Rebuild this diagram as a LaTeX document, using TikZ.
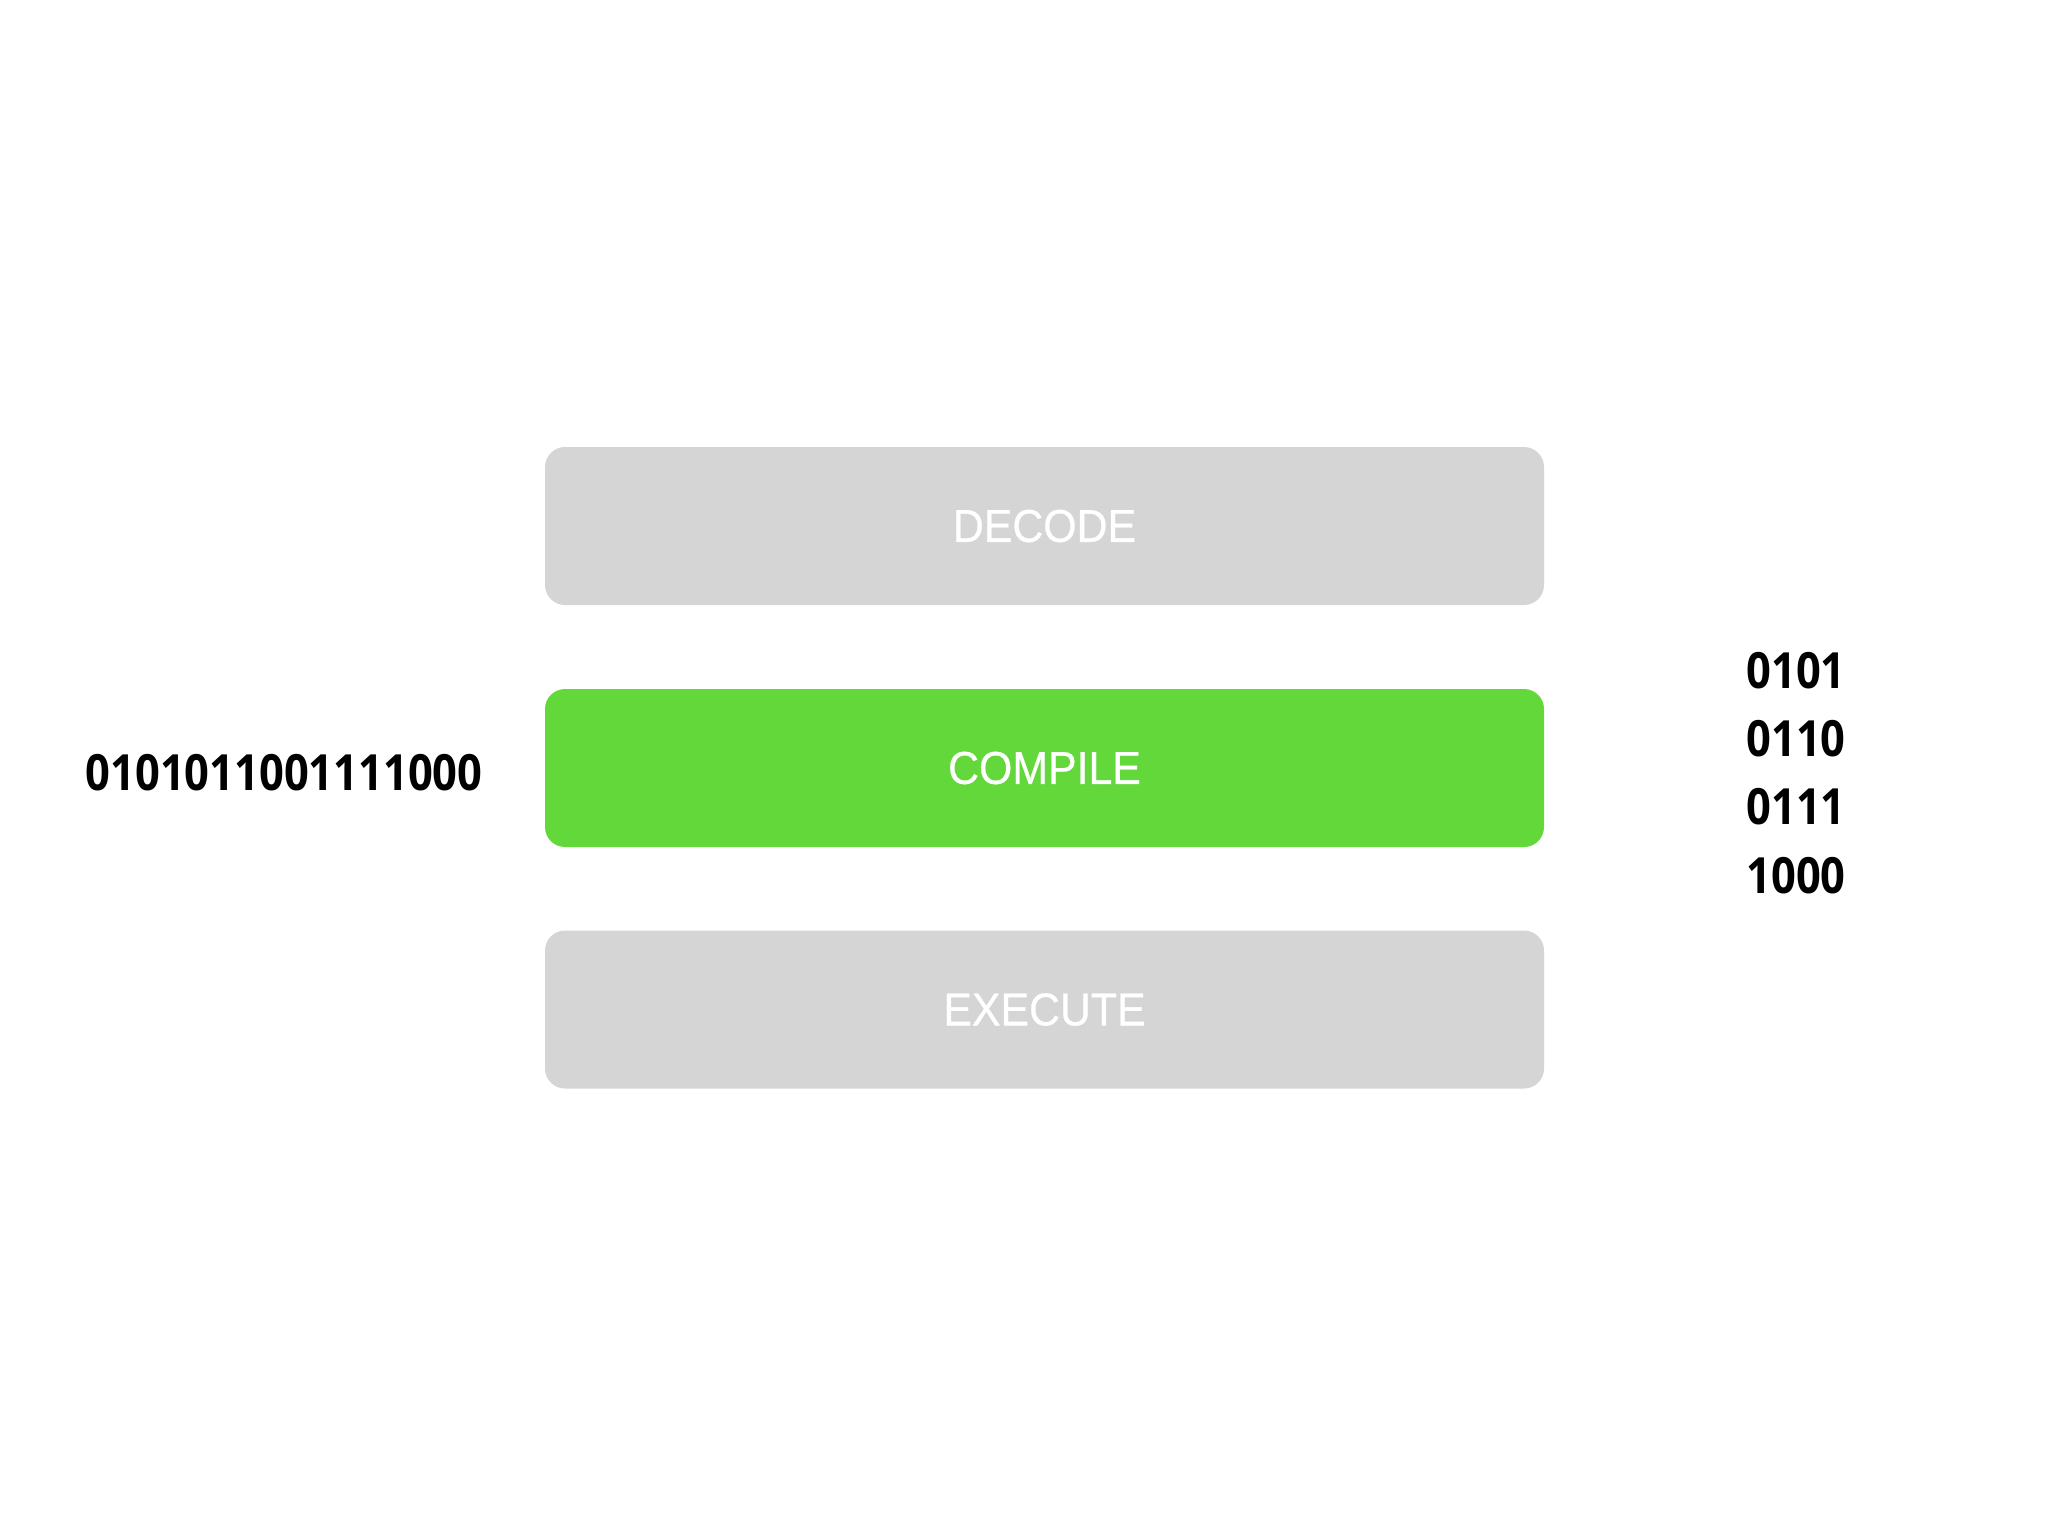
\documentclass[tikz,border=0pt]{standalone}
\usepackage{fontspec}
\setmainfont{Liberation Sans}
\newfontfamily\labfont[FakeStretch=0.93,FakeBold=0.6]{Liberation Sans}
\newfontfamily\digfont[FakeStretch=0.87]{Open Sans}
\definecolor{boxgray}{HTML}{D5D5D5}
\definecolor{boxgreen}{HTML}{63D83A}
\tikzset{
  stage/.style={rounded corners=20*0.1mm, minimum width=999*0.1mm, minimum height=158*0.1mm, inner sep=0pt, text=white, font=\labfont\fontsize{13.1pt}{15pt}\selectfont},
  bits/.style={inner sep=0pt, font=\digfont\bfseries\fontsize{14.2pt}{19.4pt}\selectfont}
}
\begin{document}
\begin{tikzpicture}[x=0.1mm,y=-0.1mm]
\useasboundingbox[fill=white] (0,0) rectangle (2048,1536);
\node[stage, fill=boxgray] (decode) at (1044.5,526) {DECODE};
\node[stage, fill=boxgreen] (compile) at (1044.5,768) {COMPILE};
\node[stage, fill=boxgray] (execute) at (1044.5,1009.5) {EXECUTE};
\node[bits] (left) at (284,773) {0101011001111000};
\node[bits, align=center] (right) at (1796,773) {0101\\0110\\0111\\1000};
\end{tikzpicture}
\end{document}
